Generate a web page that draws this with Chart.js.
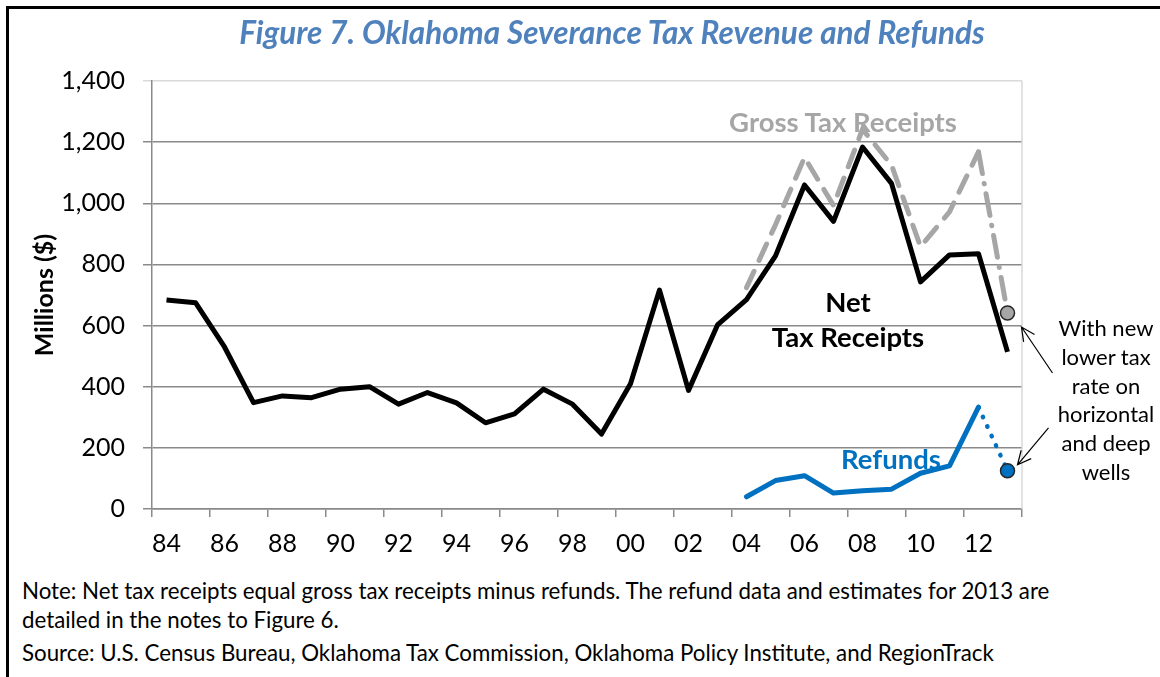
<!DOCTYPE html>
<html>
<head>
<meta charset="utf-8">
<script src="https://cdn.jsdelivr.net/npm/chart.js@4.4.1/dist/chart.umd.min.js"></script>
<style>
  body { margin: 0; background: #fff; font-family: Lato, "Open Sans", sans-serif; }
  #wrap { position: relative; width: 1160px; height: 677px; overflow: hidden; background: #fff; }
  #frame { position: absolute; left: 6px; top: 6px; width: 1160px; height: 700px; border: 3px solid #000; }
  canvas { position: absolute; left: 0; top: 0; }
  .t { position: absolute; white-space: nowrap; transform: translate(-50%, -50%); line-height: 1; }
  .note { position: absolute; left: 22px; white-space: nowrap; font-size: 22.3px; color: #000; line-height: 1; transform: translateY(-50%); }
</style>
</head>
<body>
<div id="wrap">
  <div id="frame"></div>
  <canvas id="chart" width="1160" height="560"></canvas>
  <div class="t" style="left:612px; top:33px; font-size:31.5px; font-weight:bold; font-style:italic; color:#4f81bd;">Figure 7. Oklahoma Severance Tax Revenue and Refunds</div>
  <div class="t" style="left:843px; top:122px; font-size:27.5px; font-weight:bold; color:#a6a6a6;">Gross Tax Receipts</div>
  <div class="t" style="left:848px; top:302px; font-size:27.5px; font-weight:bold; color:#000;">Net</div>
  <div class="t" style="left:848px; top:337px; font-size:27.5px; font-weight:bold; color:#000;">Tax Receipts</div>
  <div class="t" style="left:891px; top:459px; font-size:27.5px; font-weight:bold; color:#0070c0;">Refunds</div>
  <div class="t" style="left:1106px; top:328px; font-size:22px;">With new</div>
  <div class="t" style="left:1106px; top:357px; font-size:22px;">lower tax</div>
  <div class="t" style="left:1106px; top:386px; font-size:22px;">rate on</div>
  <div class="t" style="left:1106px; top:414px; font-size:22px;">horizontal</div>
  <div class="t" style="left:1106px; top:443px; font-size:22px;">and deep</div>
  <div class="t" style="left:1106px; top:472px; font-size:22px;">wells</div>
  <div class="note" style="top:591px;">Note: Net tax receipts equal gross tax receipts minus refunds. The refund data and estimates for 2013 are</div>
  <div class="note" style="top:620px;">detailed in the notes to Figure 6.</div>
  <div class="note" style="top:653px;">Source: U.S. Census Bureau, Oklahoma Tax Commission, Oklahoma Policy Institute, and RegionTrack</div>
</div>
<script>
// years 1984 - 2013, shown as two digit labels
const years = ['84','85','86','87','88','89','90','91','92','93','94','95','96','97','98','99',
               '00','01','02','03','04','05','06','07','08','09','10','11','12','13'];

// millions of dollars
const netReceipts = [684, 675, 530, 348, 370, 364, 392, 400, 343, 381, 347, 282, 311, 392, 343, 245,
                     410, 716, 388, 602, 685, 828, 1060, 941, 1184, 1065, 743, 831, 835, 514];
const grossReceipts = [null, null, null, null, null, null, null, null, null, null, null, null, null, null, null, null,
                       null, null, null, null, 724, 930, 1150, 993, 1242, 1125, 858, 972, 1168, 641];
const refunds = [null, null, null, null, null, null, null, null, null, null, null, null, null, null, null, null,
                 null, null, null, null, 40, 93, 109, 52, 60, 65, 117, 141, 333, 125];

const yTicks = { min: 0, max: 1400, step: 200 };

const gridGray = '#8a8a8a';
const lastIdx = years.length - 1;

function drawArrow(ctx, x1, y1, x2, y2) {
  const ang = Math.atan2(y2 - y1, x2 - x1);
  const len = 15;
  ctx.beginPath();
  ctx.moveTo(x1, y1);
  ctx.lineTo(x2, y2);
  ctx.moveTo(x2 - len * Math.cos(ang - 0.45), y2 - len * Math.sin(ang - 0.45));
  ctx.lineTo(x2, y2);
  ctx.lineTo(x2 - len * Math.cos(ang + 0.45), y2 - len * Math.sin(ang + 0.45));
  ctx.stroke();
}

const extras = {
  id: 'extras',
  beforeDatasetsDraw(chart) {
    const { ctx, chartArea: a } = chart;
    ctx.save();
    ctx.strokeStyle = '#d9d9d9';
    ctx.lineWidth = 1.5;
    ctx.beginPath();
    ctx.moveTo(a.right, a.top);
    ctx.lineTo(a.right, a.bottom);
    ctx.stroke();
    ctx.restore();
  },
  afterDatasetsDraw(chart) {
    const ctx = chart.ctx;
    const g = chart.getDatasetMeta(2).data[lastIdx];
    const r = chart.getDatasetMeta(1).data[lastIdx];
    ctx.save();
    ctx.strokeStyle = '#000';
    ctx.lineWidth = 1.2;
    drawArrow(ctx, g.x + 45, g.y + 60, g.x + 14, g.y + 14);
    drawArrow(ctx, r.x + 41, r.y - 43, r.x + 10, r.y - 6);
    ctx.restore();
  }
};

Chart.defaults.font.family = 'Lato, "Open Sans", sans-serif';
Chart.defaults.color = '#000';

new Chart(document.getElementById('chart'), {
  type: 'line',
  data: {
    labels: years,
    datasets: [
      {
        label: 'Net Tax Receipts',
        data: netReceipts,
        borderColor: '#000',
        borderWidth: 5,
        borderJoinStyle: 'round',
        pointRadius: 0,
        tension: 0
      },
      {
        label: 'Refunds',
        data: refunds,
        borderColor: '#0070c0',
        borderWidth: 5,
        borderJoinStyle: 'round',
        borderCapStyle: 'round',
        pointRadius: c => c.dataIndex === lastIdx ? 7 : 0,
        pointBackgroundColor: '#0070c0',
        pointBorderColor: '#262626',
        pointBorderWidth: 1.5,
        segment: {
          borderDash: c => c.p1DataIndex === lastIdx ? [0.5, 10] : undefined,
          borderWidth: c => c.p1DataIndex === lastIdx ? 4.5 : undefined
        }
      },
      {
        label: 'Gross Tax Receipts',
        data: grossReceipts,
        borderColor: '#a6a6a6',
        borderWidth: 5,
        borderDash: [18, 12],
        borderCapStyle: 'round',
        pointRadius: c => c.dataIndex === lastIdx ? 7 : 0,
        pointBackgroundColor: '#a6a6a6',
        pointBorderColor: '#262626',
        pointBorderWidth: 1.5,
        segment: {
          borderDash: c => c.p1DataIndex === lastIdx ? [22, 10, 0.5, 10] : undefined
        }
      }
    ]
  },
  options: {
    responsive: false,
    animation: false,
    layout: { padding: { top: 81, right: 138, left: 0, bottom: 0 } },
    plugins: {
      legend: { display: false },
      tooltip: { enabled: false },
      title: { display: false }
    },
    scales: {
      x: {
        offset: true,
        afterFit: s => { s.height = 51; },
        grid: {
          offset: true,
          drawOnChartArea: false,
          tickLength: 8,
          lineWidth: 1.5,
          color: c => (c.type !== 'tick' || c.index % 2 === 0) ? gridGray : 'rgba(0,0,0,0)'
        },
        border: { color: gridGray, width: 1.5 },
        ticks: {
          autoSkip: false,
          maxRotation: 0,
          padding: 12,
          font: { size: 25 },
          callback: function (v, i) { return i % 2 === 0 ? this.getLabelForValue(v) : ''; }
        }
      },
      y: {
        min: yTicks.min,
        max: yTicks.max,
        afterFit: s => { s.width = 152; },
        grid: {
          tickLength: 9,
          lineWidth: 1.5,
          color: c => (c.tick && c.tick.value === yTicks.max) ? '#d9d9d9' : gridGray
        },
        border: { color: gridGray, width: 1.5 },
        ticks: {
          stepSize: yTicks.step,
          padding: 18,
          font: { size: 25 }
        },
        title: {
          display: true,
          text: 'Millions ($)',
          font: { size: 25, weight: 'bold' },
          padding: { top: 30, bottom: 0 }
        }
      }
    }
  },
  plugins: [extras]
});
</script>
</body>
</html>
